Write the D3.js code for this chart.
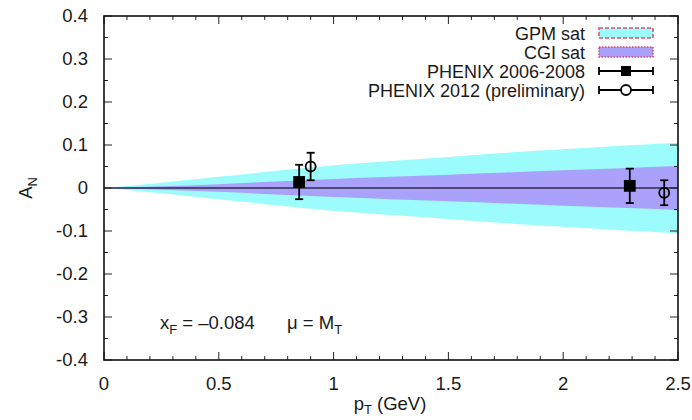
<!DOCTYPE html>
<html>
<head>
<meta charset="utf-8">
<script src="https://cdn.jsdelivr.net/npm/d3@7"></script>
<style>
  body { margin: 0; background: #fff; }
  svg text { font-family: "Liberation Sans", Arial, sans-serif; fill: #1a1a1a; }
</style>
</head>
<body>
<div id="chart"></div>
<script>
// band edges (symmetric around 0) vs pT
const bandPt = [0, 0.25, 0.5, 0.75, 1, 1.25, 1.5, 1.75, 2, 2.25, 2.5];
const gpmBand = [0, 0.012, 0.026, 0.040, 0.053, 0.063, 0.072, 0.082, 0.090, 0.098, 0.105];
const cgiBand = [0, 0.004, 0.009, 0.015, 0.021, 0.026, 0.031, 0.036, 0.041, 0.046, 0.051];

// PHENIX points
const phenix0608 = [
    {pt: 0.85, an: 0.014, err: 0.040},
    {pt: 2.29, an: 0.005, err: 0.040}
];
const phenix2012 = [
    {pt: 0.90, an: 0.050, err: 0.032},
    {pt: 2.44, an: -0.011, err: 0.029}
];

const xTicks = [0, 0.5, 1, 1.5, 2, 2.5];
const yTicks = [-0.4, -0.3, -0.2, -0.1, 0, 0.1, 0.2, 0.3, 0.4];

function Config() {
    this.width = 692;
    this.height = 420;
    this.marginTop = 16;
    this.marginRight = 14;
    this.marginBottom = 60;
    this.marginLeft = 104;
    this.fs = 18.5;
    this.sub = 13;
    this.x = d3.scaleLinear([0, 2.5], [this.marginLeft, this.width - this.marginRight]);
    this.y = d3.scaleLinear([-0.4, 0.4], [this.height - this.marginBottom, this.marginTop]);
}

function draw(cfg) {
    const {x, y, fs, sub} = cfg;
    const svg = d3.select("#chart").append("svg")
        .attr("width", cfg.width)
        .attr("height", cfg.height);

    const bands = bandPt.map((p, i) => ({pt: p, gpm: gpmBand[i], cgi: cgiBand[i]}));

    const area = key => d3.area()
        .x(d => x(d.pt))
        .y0(d => y(-d[key]))
        .y1(d => y(d[key]))
        .curve(d3.curveMonotoneX);

    svg.append("path").attr("fill", "#9cfcfc").attr("d", area("gpm")(bands));
    svg.append("path").attr("fill", "#aaa2fa").attr("d", area("cgi")(bands));

    // zero line
    svg.append("line")
        .attr("x1", x(0)).attr("x2", x(2.5))
        .attr("y1", y(0)).attr("y2", y(0))
        .attr("stroke", "#2b2b4a").attr("stroke-width", 1.3);

    const tickLen = 8, minorLen = 4;
    // axes: major + minor ticks, mirrored
    const axisG = svg.append("g").attr("stroke", "#222");
    d3.range(0, 2.5001, 0.1).forEach(v => {
        const major = xTicks.some(t => Math.abs(t - v) < 1e-6);
        const len = major ? tickLen : minorLen;
        axisG.append("line").attr("x1", x(v)).attr("x2", x(v))
            .attr("y1", y(-0.4)).attr("y2", y(-0.4) - len);
        axisG.append("line").attr("x1", x(v)).attr("x2", x(v))
            .attr("y1", y(0.4)).attr("y2", y(0.4) + len);
    });
    d3.range(-0.4, 0.4001, 0.05).forEach(v => {
        const major = yTicks.some(t => Math.abs(t - v) < 1e-6);
        const len = major ? tickLen : minorLen;
        axisG.append("line").attr("y1", y(v)).attr("y2", y(v))
            .attr("x1", x(0)).attr("x2", x(0) + len);
        axisG.append("line").attr("y1", y(v)).attr("y2", y(v))
            .attr("x1", x(2.5)).attr("x2", x(2.5) - len);
    });

    svg.append("rect")
        .attr("x", x(0)).attr("y", y(0.4))
        .attr("width", x(2.5) - x(0)).attr("height", y(-0.4) - y(0.4))
        .attr("fill", "none").attr("stroke", "#111").attr("stroke-width", 1.6);

    svg.append("g").selectAll("text").data(xTicks).join("text")
        .attr("x", d => x(d)).attr("y", y(-0.4) + 30)
        .attr("text-anchor", "middle").attr("font-size", fs)
        .text(d => d);

    svg.append("g").selectAll("text").data(yTicks).join("text")
        .attr("x", x(0) - 16).attr("y", d => y(d) + 6)
        .attr("text-anchor", "end").attr("font-size", fs)
        .text(d => d);

    // axis titles
    const xl = svg.append("text").attr("x", 390).attr("y", 410)
        .attr("text-anchor", "middle").attr("font-size", fs);
    xl.append("tspan").text("p");
    xl.append("tspan").attr("font-size", sub).attr("dy", 4).text("T");
    xl.append("tspan").attr("dy", -4).text(" (GeV)");

    const yl = svg.append("text")
        .attr("transform", `translate(32,${y(0)}) rotate(-90)`)
        .attr("text-anchor", "middle").attr("font-size", fs);
    yl.append("tspan").text("A");
    yl.append("tspan").attr("font-size", sub).attr("dy", 5).text("N");

    // error bars + markers
    const pts = svg.append("g").attr("stroke", "#000").attr("stroke-width", 1.8);
    const bars = data => data.forEach(d => {
        pts.append("line").attr("x1", x(d.pt)).attr("x2", x(d.pt))
            .attr("y1", y(d.an - d.err)).attr("y2", y(d.an + d.err));
        [d.an - d.err, d.an + d.err].forEach(v =>
            pts.append("line").attr("x1", x(d.pt) - 4).attr("x2", x(d.pt) + 4)
                .attr("y1", y(v)).attr("y2", y(v)));
    });
    bars(phenix0608);
    bars(phenix2012);
    pts.selectAll(".sq").data(phenix0608).join("rect")
        .attr("x", d => x(d.pt) - 5).attr("y", d => y(d.an) - 5)
        .attr("width", 10).attr("height", 10).attr("fill", "#000");
    pts.selectAll(".circ").data(phenix2012).join("circle")
        .attr("cx", d => x(d.pt)).attr("cy", d => y(d.an)).attr("r", 5)
        .attr("fill", "none");

    // legend
    const lg = svg.append("g");
    const lx = 585, sx0 = 599, sx1 = 653;
    const rows = [33, 52, 71, 90];
    const labels = ["GPM sat", "CGI sat", "PHENIX 2006-2008", "PHENIX 2012 (preliminary)"];
    lg.selectAll("text").data(labels).join("text")
        .attr("x", lx).attr("y", (d, i) => rows[i] + 6.5)
        .attr("text-anchor", "end").attr("font-size", 18)
        .text(d => d);
    lg.append("rect").attr("x", sx0).attr("y", rows[0] - 5).attr("width", sx1 - sx0).attr("height", 10)
        .attr("fill", "#9cfcfc").attr("stroke", "#e0506a").attr("stroke-width", 1.5)
        .attr("stroke-dasharray", "4,2");
    lg.append("rect").attr("x", sx0).attr("y", rows[1] - 5).attr("width", sx1 - sx0).attr("height", 10)
        .attr("fill", "#aaa2fa").attr("stroke", "#d04080").attr("stroke-width", 1.5)
        .attr("stroke-dasharray", "1.5,1.5");
    [2, 3].forEach(i => {
        const yy = rows[i];
        lg.append("line").attr("x1", sx0).attr("x2", sx1).attr("y1", yy).attr("y2", yy)
            .attr("stroke", "#000").attr("stroke-width", 1.8);
        [sx0, sx1].forEach(xx => lg.append("line").attr("x1", xx).attr("x2", xx)
            .attr("y1", yy - 4).attr("y2", yy + 4).attr("stroke", "#000").attr("stroke-width", 1.8));
    });
    lg.append("rect").attr("x", (sx0 + sx1) / 2 - 5).attr("y", rows[2] - 5)
        .attr("width", 10).attr("height", 10).attr("fill", "#000");
    lg.append("circle").attr("cx", (sx0 + sx1) / 2).attr("cy", rows[3]).attr("r", 5)
        .attr("fill", "#fff").attr("stroke", "#000").attr("stroke-width", 1.8);

    // annotation
    const an = svg.append("text").attr("x", 160).attr("y", 329).attr("font-size", fs);
    an.append("tspan").text("x");
    an.append("tspan").attr("font-size", sub).attr("dy", 5).text("F");
    an.append("tspan").attr("dy", -5).text(" = \u20130.084");
    const mu = svg.append("text").attr("x", 287).attr("y", 329).attr("font-size", fs);
    mu.append("tspan").text("\u03bc = M");
    mu.append("tspan").attr("font-size", sub).attr("dy", 5).text("T");
}

document.addEventListener("DOMContentLoaded", () => draw(new Config()));
</script>
</body>
</html>
